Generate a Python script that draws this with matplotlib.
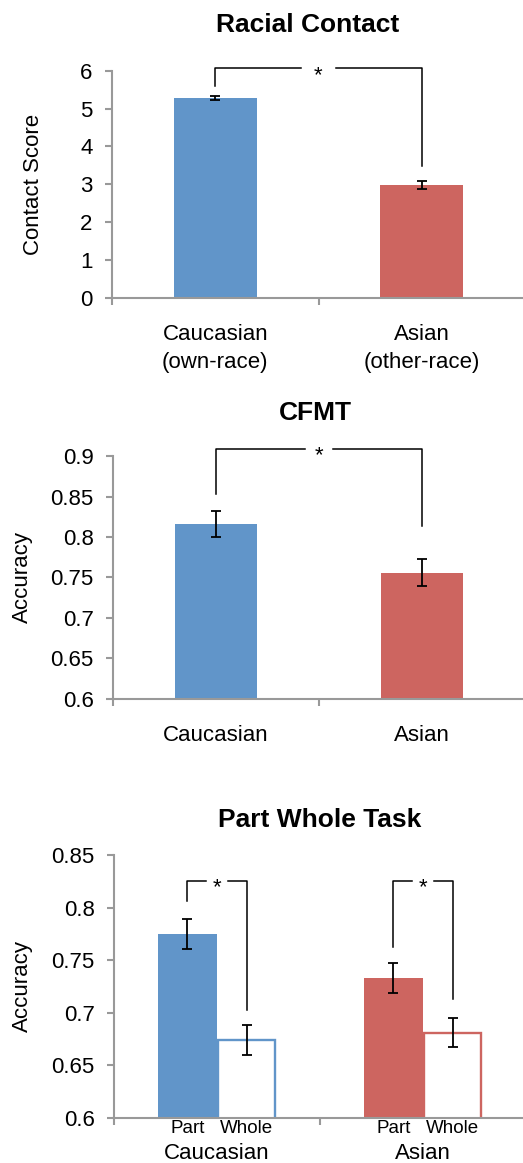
import numpy as np
import matplotlib
matplotlib.use("Agg")
import matplotlib.pyplot as plt

plt.rcParams["font.family"] = ["Liberation Sans", "DejaVu Sans"]
plt.rcParams["font.size"] = 16

BLUE = "#6195c9"
RED = "#cd6560"
GRAY = "#999999"

# Racial contact
contact_groups = ["Caucasian\n(own-race)", "Asian\n(other-race)"]
contact_means = [5.28, 2.98]
contact_err = [0.06, 0.10]
contact_ticks = [0, 1, 2, 3, 4, 5, 6]

# CFMT
cfmt_groups = ["Caucasian", "Asian"]
cfmt_means = [0.816, 0.756]
cfmt_err = [0.016, 0.017]
cfmt_ticks = [0.6, 0.65, 0.7, 0.75, 0.8, 0.85, 0.9]

# Part whole task
pw_groups = ["Caucasian", "Asian"]
pw_conditions = ["Part", "Whole"]
pw_part = [0.775, 0.733]
pw_part_err = [0.0145, 0.0145]
pw_whole = [0.674, 0.681]
pw_whole_err = [0.014, 0.014]
pw_ticks = [0.6, 0.65, 0.7, 0.75, 0.8, 0.85]

# significance brackets: (x left, x right, top, left end, right end)
contact_sig = [(0, 1, 6.06, 5.6, 3.48)]
cfmt_sig = [(0, 1, 0.9086, 0.853, 0.813)]
pw_sig = [(-0.144, 0.144, 0.8256, 0.806, 0.7025),
          (-0.144 + 1, 0.144 + 1, 0.8256, 0.7628, 0.713)]

fig = plt.figure(figsize=(5.23, 11.63), dpi=100)
ax1 = fig.add_axes([112 / 523, 0.7440, 413 / 523, 0.1952])
ax2 = fig.add_axes([113 / 523, 0.3990, 412 / 523, 0.2089])
ax3 = fig.add_axes([114 / 523, 0.03895, 412 / 523, 0.2259])


def style(ax, ticks, ylim):
    ax.set_xlim(-0.5, 1.5)
    ax.set_ylim(*ylim)
    ax.set_yticks(ticks)
    ax.set_yticklabels([f"{t:g}" for t in ticks])
    for s in ["top", "right"]:
        ax.spines[s].set_visible(False)
    for s in ["left", "bottom"]:
        ax.spines[s].set_color(GRAY)
        ax.spines[s].set_linewidth(1.5)
    ax.tick_params(axis="y", direction="out", length=5, width=1.5,
                   color=GRAY, pad=9, labelsize=16)
    ax.tick_params(axis="x", which="major", length=0, labelsize=16)
    ax.set_xticks([-0.5, 0.5, 1.5], minor=True)
    ax.tick_params(axis="x", which="minor", direction="out", length=5,
                   width=1.5, color=GRAY)


def bracket(ax, sig, gap, off):
    for xl, xr, top, yl, yr in sig:
        xm = (xl + xr) / 2
        kw = dict(color="black", lw=1.1, clip_on=False)
        ax.plot([xl, xl, xm - gap], [yl, top, top], **kw)
        ax.plot([xm + gap, xr, xr], [top, top, yr], **kw)
        ax.annotate("*", (xm, top), xytext=(0, off), textcoords="offset points",
                    ha="center", va="baseline", fontsize=16,
                    annotation_clip=False)


ekw = dict(ecolor="black", elinewidth=1.3, capsize=3.5, capthick=1.3)

# panel 1
x = np.arange(len(contact_groups))
ax1.bar(x, contact_means, width=0.4, color=[BLUE, RED], yerr=contact_err,
        error_kw=ekw, zorder=2)
style(ax1, contact_ticks, (0, 6))
ax1.set_xticks(x)
ax1.set_xticklabels(contact_groups, linespacing=1.45)
ax1.tick_params(axis="x", which="major", pad=19)
ax1.set_ylabel("Contact Score", fontsize=16, va="center")
ax1.yaxis.set_label_coords(-0.19, 0.5)
ax1.set_title("Racial Contact", fontsize=19, fontweight="bold", x=0.473, pad=28)
bracket(ax1, contact_sig, 0.083, -9)

# panel 2
x = np.arange(len(cfmt_groups))
ax2.bar(x, cfmt_means, width=0.4, color=[BLUE, RED], yerr=cfmt_err,
        error_kw=ekw, zorder=2)
style(ax2, cfmt_ticks, (0.6, 0.9))
ax2.set_xticks(x)
ax2.set_xticklabels(cfmt_groups)
ax2.tick_params(axis="x", which="major", pad=19)
ax2.set_ylabel("Accuracy", fontsize=16, va="center")
ax2.yaxis.set_label_coords(-0.219, 0.5)
ax2.set_title("CFMT", fontsize=19, fontweight="bold", x=0.49, pad=26)
bracket(ax2, cfmt_sig, 0.066, -9)

# panel 3
x = np.arange(len(pw_groups))
w = 0.285
off = 0.144
ax3.bar(x - off, pw_part, width=w, color=[BLUE, RED], yerr=pw_part_err,
        error_kw=ekw, zorder=2)
ax3.bar(x + off, pw_whole, width=w - 0.01, color="white",
        edgecolor=[BLUE, RED], linewidth=1.7, yerr=pw_whole_err,
        error_kw=ekw, zorder=2)
style(ax3, pw_ticks, (0.6, 0.85))
ax3.set_xticks(np.concatenate([x - off, x + off]))
ax3.set_xticklabels([pw_conditions[0]] * len(x) + [pw_conditions[1]] * len(x),
                    fontsize=13.5)
ax3.tick_params(axis="x", which="major", pad=2, labelsize=13.5)
for xi, g in zip(x, pw_groups):
    ax3.text(xi, -0.137, g, transform=ax3.get_xaxis_transform(),
             ha="center", va="center", fontsize=16)
ax3.set_ylabel("Accuracy", fontsize=16, va="center")
ax3.yaxis.set_label_coords(-0.221, 0.5)
ax3.set_title("Part Whole Task", fontsize=19, fontweight="bold", x=0.499,
              pad=20)
bracket(ax3, pw_sig, 0.055, -9)

fig.savefig("out.png", dpi=100)
